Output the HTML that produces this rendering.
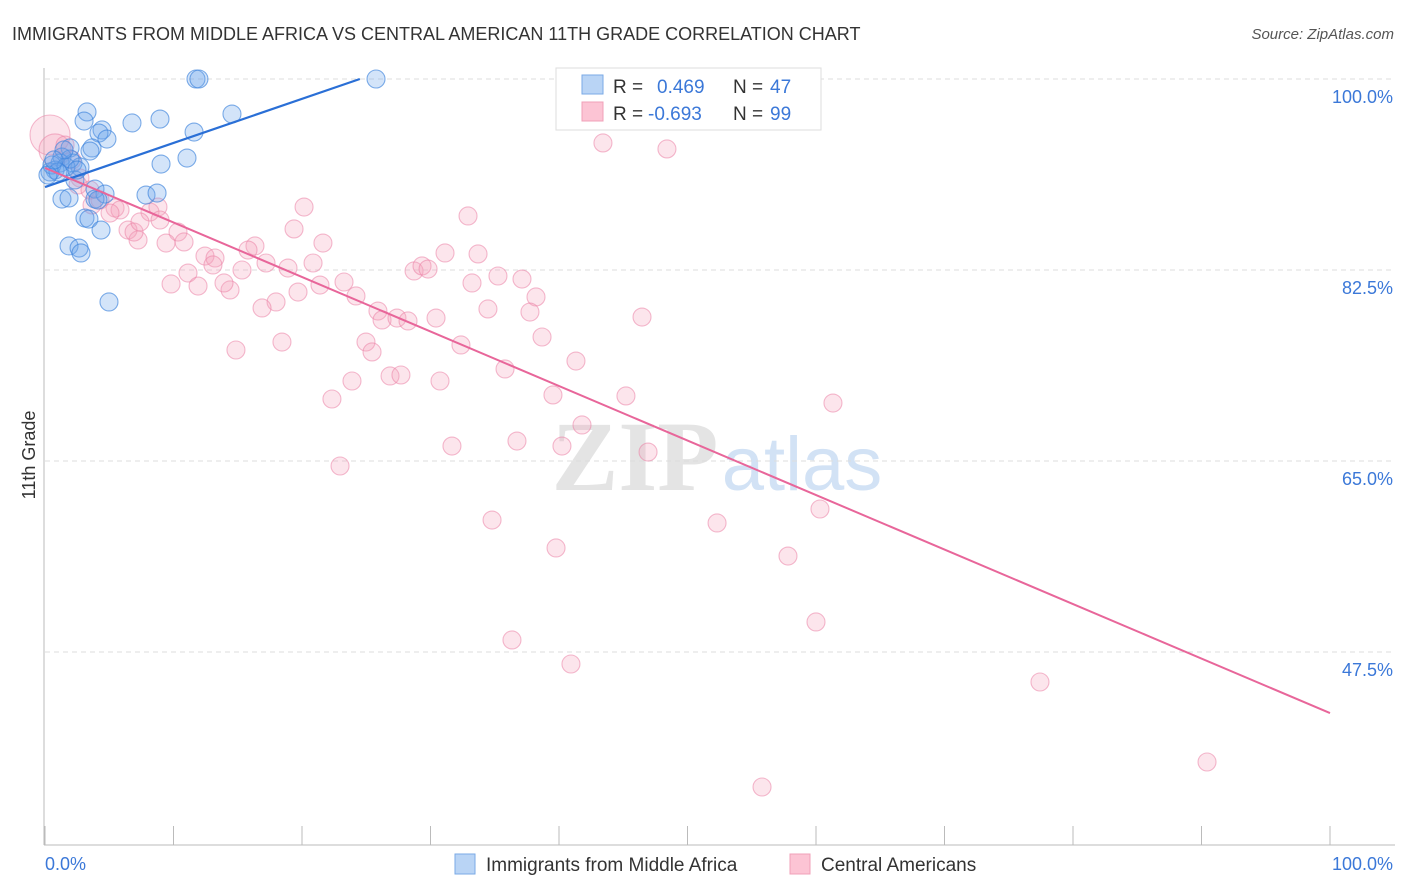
<!DOCTYPE html>
<html><head><meta charset="utf-8"><style>
body{margin:0;background:#fff;font-family:"Liberation Sans",sans-serif;}
svg{display:block}
</style></head><body>
<svg id="chart" width="1406" height="892" xmlns="http://www.w3.org/2000/svg">
<text x="12" y="40" font-size="18" fill="#333">IMMIGRANTS FROM MIDDLE AFRICA VS CENTRAL AMERICAN 11TH GRADE CORRELATION CHART</text>
<text x="1394" y="39" font-size="15" fill="#555" font-style="italic" text-anchor="end">Source: ZipAtlas.com</text>
<g>
<text x="635" y="490" font-size="100" font-family="Liberation Serif,serif" fill="#e4e4e4" text-anchor="middle" font-weight="bold">ZIP</text>
<text x="802" y="490" font-size="76" fill="#d2e2f5" text-anchor="middle">atlas</text>
</g>
<g id="grid"></g>
<g id="axes"></g>
<g id="pink"></g>
<g id="blue"></g>
<g id="trend"></g>
<text x="35" y="455" font-size="18" fill="#333" text-anchor="middle" transform="rotate(-90 35 455)">11th Grade</text>
<g>
<rect x="556" y="68" width="265" height="62" fill="#fff" stroke="#ddd"/>
<rect x="582" y="75" width="21" height="19" fill="#b9d4f5" stroke="#7aaae6"/>
<rect x="582" y="102" width="21" height="19" fill="#fcc4d4" stroke="#f0a0b8"/>
<text x="613" y="93" font-size="19" fill="#333">R =</text>
<text x="657" y="93" font-size="19" fill="#3b78d8">0.469</text>
<text x="733" y="93" font-size="19" fill="#333">N =</text>
<text x="770" y="93" font-size="19" fill="#3b78d8">47</text>
<text x="613" y="120" font-size="19" fill="#333">R =</text>
<text x="648" y="120" font-size="19" fill="#3b78d8">-0.693</text>
<text x="733" y="120" font-size="19" fill="#333">N =</text>
<text x="770" y="120" font-size="19" fill="#3b78d8">99</text>
</g>
<g>
<rect x="455" y="854" width="20" height="20" fill="#b9d4f5" stroke="#7aaae6"/>
<text x="486" y="871" font-size="19" fill="#333">Immigrants from Middle Africa</text>
<rect x="790" y="854" width="20" height="20" fill="#fcc4d4" stroke="#f0a0b8"/>
<text x="821" y="871" font-size="19" fill="#333">Central Americans</text>
</g>
</svg>
<script>
const yTicks=[100,82.5,65,47.5];
const yTickLabels=["100.0%","82.5%","65.0%","47.5%"];
const xTickLabels=["0.0%","100.0%"];
const blueX=[11.75,11.98,25.76,3.27,3.04,6.77,8.95,14.55,4.44,4.2,4.82,11.6,3.66,3.5,1.95,1.32,11.05,9.03,1.17,0.78,0.39,2.18,2.72,2.33,3.89,4.67,3.89,1.32,1.87,7.86,8.72,3.11,3.42,4.36,1.87,2.65,2.8,4.98,0.54,1.63,1.01,0.23,1.95,1.48,0.7,2.49,4.12];
const blueY=[100,100,100,96.98,96.15,95.97,96.33,96.79,95.33,95.05,94.5,95.14,93.68,93.4,93.68,92.85,92.76,92.21,92.3,91.66,91.48,92.3,91.94,90.75,89.92,89.46,89.0,89.0,89.1,89.37,89.55,87.26,87.17,86.16,84.7,84.51,84.06,79.57,92.12,91.94,91.48,91.2,92.67,93.5,92.58,91.66,88.91];
const pinkX=[0.39,0.78,49.42,43.42,48.4,1.56,2.1,2.72,2.57,4.28,3.66,5.45,5.84,8.17,8.79,20.16,32.92,6.46,7.24,6.93,10.35,10.82,9.42,16.34,15.8,19.38,21.63,31.13,33.7,12.45,13.23,13.07,15.33,11.13,17.2,18.91,20.86,9.81,11.91,14.4,13.93,23.27,21.4,19.69,24.2,28.72,29.34,29.81,33.23,35.25,37.12,38.21,17.98,16.89,25.91,26.23,27.39,28.25,30.43,34.47,37.74,46.46,18.44,24.98,25.45,14.86,32.37,38.68,41.32,35.8,26.85,27.7,23.89,30.74,22.33,39.53,45.21,61.32,41.79,36.73,31.67,40.23,46.93,22.96,60.31,34.79,52.3,39.77,57.82,60.0,36.34,40.93,77.43,90.43,55.8,3.5,7.39,5.06,8.95];
const pinkY=[94.87,93.5,99.91,94.14,93.59,93.95,92.58,90.93,90.29,88.91,88.46,88.18,88.0,87.81,88.27,88.27,87.45,86.16,85.25,85.98,85.98,85.07,84.97,84.7,84.33,86.26,84.97,84.06,83.97,83.78,83.6,82.96,82.5,82.22,83.14,82.68,83.14,81.22,81.03,80.67,81.31,81.4,81.12,80.48,80.12,82.41,82.87,82.59,81.31,81.95,81.67,80.03,79.57,79.02,78.74,77.92,78.1,77.83,78.1,78.93,78.65,78.19,75.9,75.9,74.99,75.17,75.63,76.36,74.16,73.43,72.79,72.88,72.33,72.33,70.68,71.05,70.96,70.31,68.3,66.83,66.37,66.37,65.82,64.54,60.6,59.59,59.32,57.03,56.29,50.25,48.6,46.4,44.75,37.42,35.13,89.83,86.9,87.72,87.08];
const pinkR=[20,16];
const blueTrendX=[0,24.5];
const blueTrendY=[90.1,100];
const pinkTrendX=[0,100];
const pinkTrendY=[91.85,41.9];
const NS="http://www.w3.org/2000/svg";
const X0=45,X1=1330,Y100=79,PXU=10.914;
function sx(v){return X0+(X1-X0)*v/100;}
function sy(v){return Y100+(100-v)*PXU;}
function mk(t,a,p){const e=document.createElementNS(NS,t);for(const k in a)e.setAttribute(k,a[k]);p.appendChild(e);return e;}
const grid=document.getElementById('grid'),axes=document.getElementById('axes');
yTicks.forEach((v,i)=>{
 const l=mk('line',{x1:45,x2:1395,y1:sy(v),y2:sy(v),stroke:'#ddd','stroke-dasharray':'5,4'},grid);
 
 
 const t=mk('text',{x:1393,y:sy(v)+24,'font-size':18,fill:'#3b78d8','text-anchor':'end'},axes);
 t.textContent=yTickLabels[i];
 
 
});
const al=mk('line',{x1:44,x2:44,y1:68,y2:845,stroke:'#bbb'},axes);


const bl=mk('line',{x1:44,x2:1395,y1:845,y2:845,stroke:'#bbb'},axes);


for(let i=0;i<=10;i++){
 const tk=mk('line',{x1:sx(i*10),x2:sx(i*10),y1:826,y2:845,stroke:'#bbb'},axes);
 
 
}
const t0=mk('text',{x:45,y:870,'font-size':18,fill:'#3b78d8'},axes);t0.textContent=xTickLabels[0];


const t1=mk('text',{x:1393,y:870,'font-size':18,fill:'#3b78d8','text-anchor':'end'},axes);t1.textContent=xTickLabels[1];


const pg=document.getElementById('pink');
pinkX.forEach((x,i)=>{
 const c=mk('circle',{cx:sx(x),cy:sy(pinkY[i]),r:pinkR[i]||9,fill:'rgba(244,160,188,0.28)',stroke:'rgba(235,130,165,0.55)','stroke-width':1.1},pg);
 
 
});
const bg=document.getElementById('blue');
blueX.forEach((x,i)=>{
 const c=mk('circle',{cx:sx(x),cy:sy(blueY[i]),r:9,fill:'rgba(110,165,235,0.3)',stroke:'rgba(60,130,220,0.65)','stroke-width':1.1},bg);
 
 
});
const tg=document.getElementById('trend');
const b=mk('line',{x1:sx(blueTrendX[0]),y1:sy(blueTrendY[0]),x2:sx(blueTrendX[1]),y2:sy(blueTrendY[1]),stroke:'#2a6fd6','stroke-width':2.2},tg);


const p=mk('line',{x1:sx(pinkTrendX[0]),y1:sy(pinkTrendY[0]),x2:sx(pinkTrendX[1]),y2:sy(pinkTrendY[1]),stroke:'#e8669a','stroke-width':2},tg);


</script>
</body></html>
